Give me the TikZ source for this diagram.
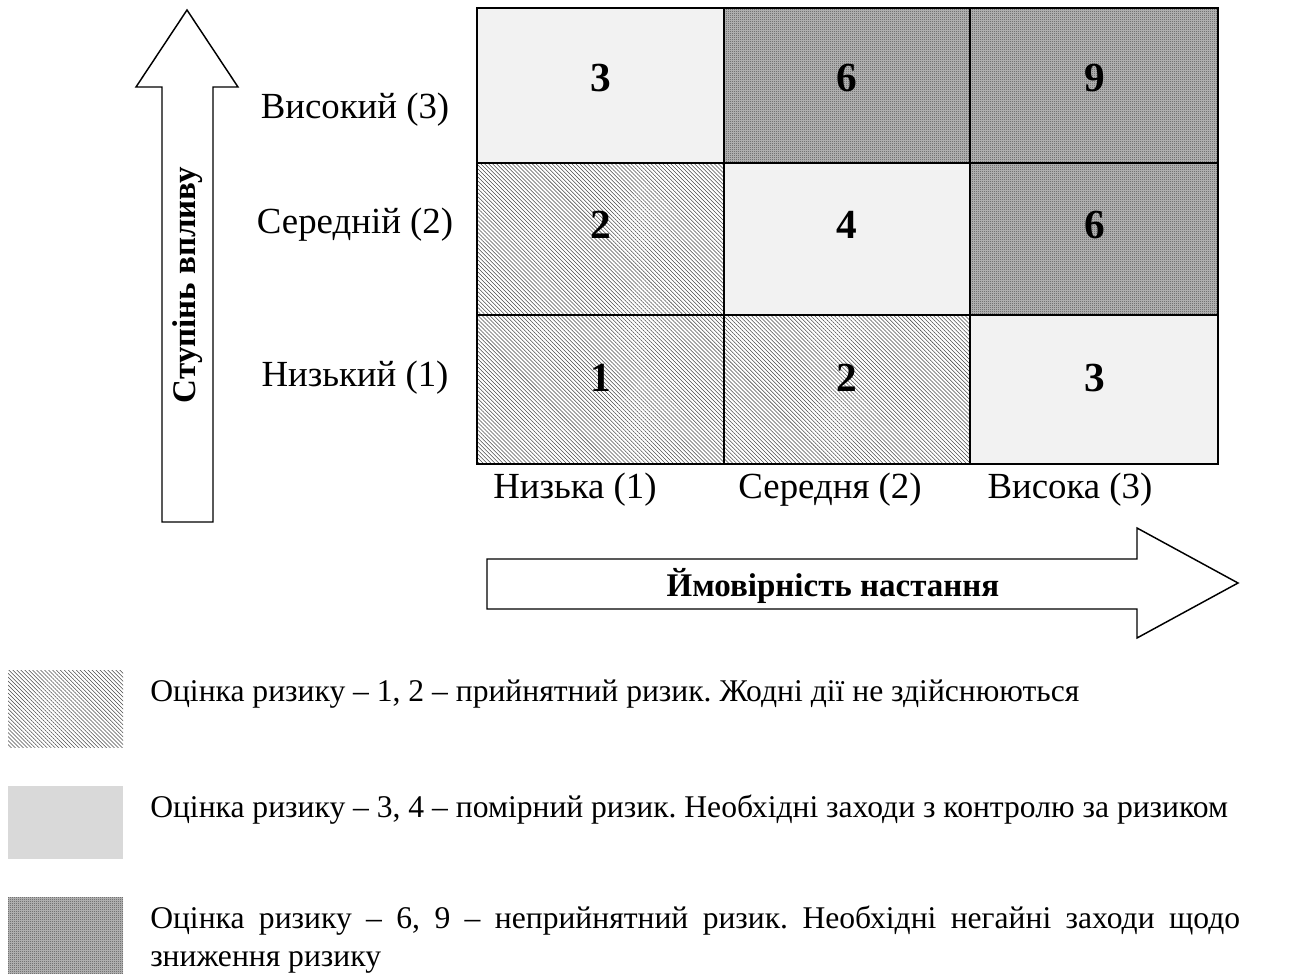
\documentclass[tikz,border=0pt]{standalone}
\usepackage{fontspec}
\setmainfont{Liberation Serif}
\usetikzlibrary{patterns.meta}
\pgfdeclarepatternformonly{checker}{\pgfpointorigin}{\pgfqpoint{1.5pt}{1.5pt}}{\pgfqpoint{1.5pt}{1.5pt}}{%
  \pgfpathrectangle{\pgfpointorigin}{\pgfqpoint{0.75pt}{0.75pt}}%
  \pgfpathrectangle{\pgfqpoint{0.75pt}{0.75pt}}{\pgfqpoint{0.75pt}{0.75pt}}%
  \pgfusepath{fill}}
\definecolor{lightcell}{HTML}{F2F2F2}
\definecolor{legendgray}{HTML}{D9D9D9}
\definecolor{checkbase}{HTML}{BDBDBD}
\frenchspacing
\begin{document}
\begin{tikzpicture}[x=0.75pt,y=-0.75pt,
  lowrisk/.style={preaction={fill=white},pattern={Lines[angle=-45,distance=2.1pt,line width=0.4pt]},pattern color=black!70},
  highrisk/.style={preaction={fill=checkbase},pattern=checker,pattern color=black!70},
  midrisk/.style={fill=lightcell},
  gridline/.style={line width=1.6pt,draw=black},
  arrowshape/.style={draw=black,line width=1.1pt,fill=white,line join=miter},
  num/.style={font=\fontsize{31}{36}\selectfont\bfseries,inner sep=0pt},
  axlabel/.style={font=\fontsize{27.6}{33}\selectfont,inner sep=0pt},
  arrowtext/.style={font=\fontsize{24.75}{29}\selectfont\bfseries,inner sep=0pt},
  legendtext/.style={font=\fontsize{23.7}{28.5}\selectfont,inner sep=0pt}]
\useasboundingbox (0,0) rectangle (1297,974);
% cells
\path[midrisk]  (477,8) rectangle (724,163);
\path[highrisk] (724,8) rectangle (970,163);
\path[highrisk] (970,8) rectangle (1218,163);
\path[lowrisk]  (477,163) rectangle (724,315);
\path[midrisk]  (724,163) rectangle (970,315);
\path[highrisk] (970,163) rectangle (1218,315);
\path[lowrisk]  (477,315) rectangle (724,464);
\path[lowrisk]  (724,315) rectangle (970,464);
\path[midrisk]  (970,315) rectangle (1218,464);
% grid
\draw[gridline] (477,8) rectangle (1218,464);
\draw[gridline] (724,8) -- (724,464);
\draw[gridline] (970,8) -- (970,464);
\draw[gridline] (477,163) -- (1218,163);
\draw[gridline] (477,315) -- (1218,315);
% numbers
\node[num] (c13) at (601,78) {3};
\node[num] (c23) at (847,78) {6};
\node[num] (c33) at (1095,78) {9};
\node[num] (c12) at (601,225) {2};
\node[num] (c22) at (847,225) {4};
\node[num] (c32) at (1095,225) {6};
\node[num] (c11) at (601,378) {1};
\node[num] (c21) at (847,378) {2};
\node[num] (c31) at (1095,378) {3};
% row labels
\node[axlabel] (r3) at (355,110) {Високий (3)};
\node[axlabel] (r2) at (355,225) {Середній (2)};
\node[axlabel] (r1) at (355,378) {Низький (1)};
% column labels
\node[axlabel] (k1) at (575,490) {Низька (1)};
\node[axlabel] (k2) at (830,490) {Середня (2)};
\node[axlabel] (k3) at (1070,490) {Висока (3)};
% vertical arrow
\draw[arrowshape] (162,522) -- (162,87) -- (136,87) -- (187,10) -- (238,87) -- (213,87) -- (213,522) -- cycle;
\node[arrowtext,rotate=90] (vt) at (188,285) {Ступінь впливу};
% horizontal arrow
\draw[arrowshape] (487,559) -- (1137,559) -- (1137,528) -- (1238,583) -- (1137,638) -- (1137,609) -- (487,609) -- cycle;
\node[arrowtext] (ht) at (833,586) {Ймовірність настання};
% legend
\path[lowrisk]  (8,670) rectangle (123,747);
\path[fill=legendgray] (8,786) rectangle (123,859);
\path[highrisk] (8,897) rectangle (123,974);
\node[legendtext,anchor=base west] (l1) at (150,701) {Оцінка ризику – 1, 2 – прийнятний ризик. Жодні дії не здійснюються};
\node[legendtext,anchor=base west] (l2) at (150,817) {Оцінка ризику – 3, 4 – помірний ризик. Необхідні заходи з контролю за ризиком};
\node[legendtext,anchor=base west,text width=817.5pt,align=justify] (l3) at (150,928) {Оцінка ризику – 6, 9 – неприйнятний ризик. Необхідні негайні заходи щодо\linebreak зниження ризику};
\end{tikzpicture}
\end{document}
